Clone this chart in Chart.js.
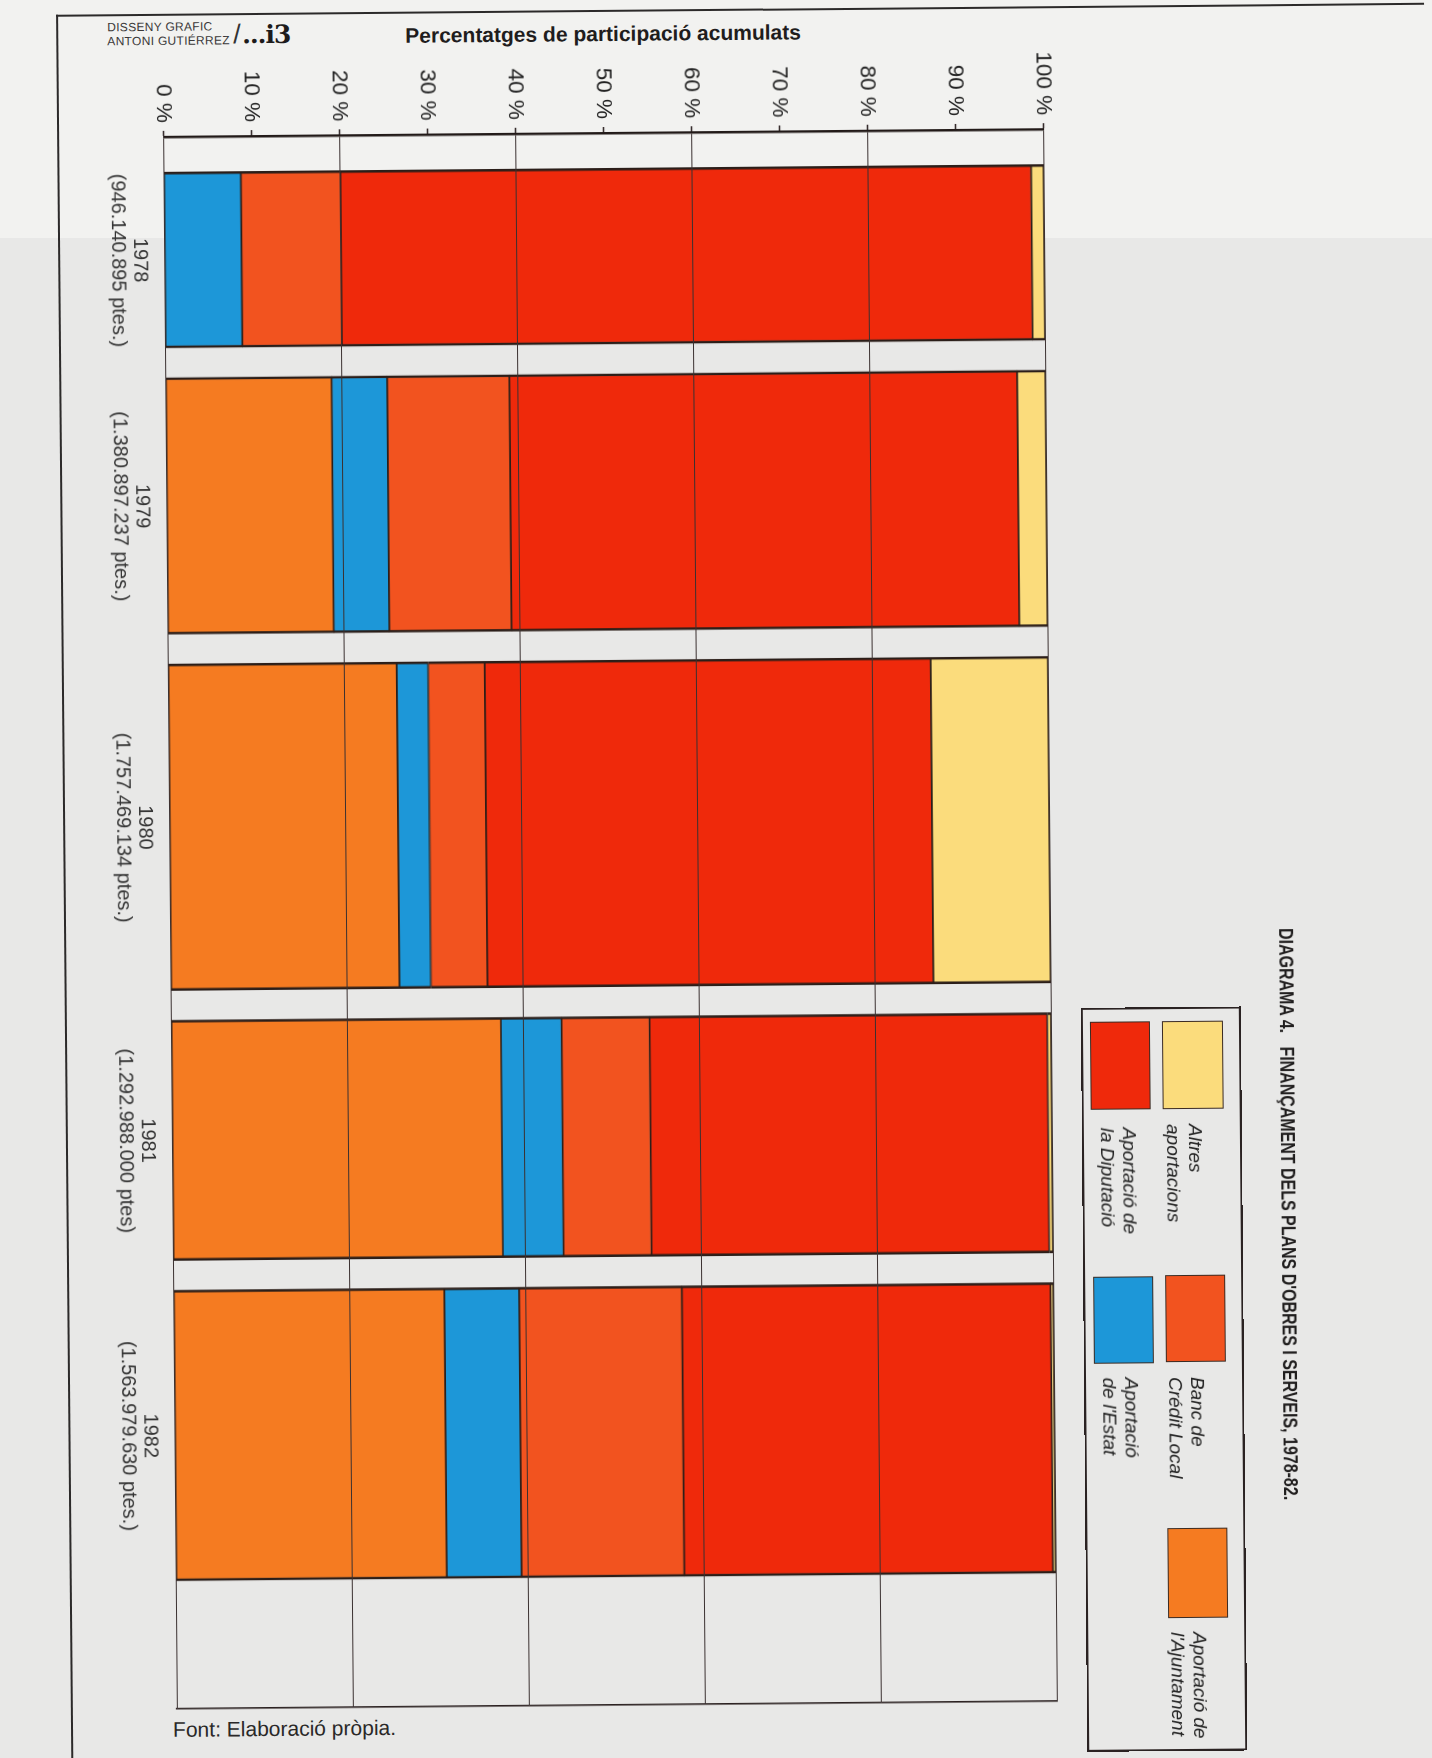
<!DOCTYPE html>
<html lang="ca">
<head>
<meta charset="utf-8">
<title>Finançament dels plans d'obres i serveis, 1978-82</title>
<script src="https://cdn.jsdelivr.net/npm/chart.js@4.4.1/dist/chart.umd.min.js"></script>
<style>
  html, body { margin: 0; padding: 0; }
  body {
    width: 1432px; height: 1758px; overflow: hidden; position: relative;
    background: #e8e8e7;
    font-family: 'Liberation Sans', Arial, Helvetica, sans-serif;
    color: #222;
  }
  #band-top { position: absolute; left: 0; top: 0; width: 1432px; height: 238px; background: #f2f2f0; }
  #page {
    position: absolute; left: 0; top: 0; width: 1432px; height: 1758px;
    transform-origin: 610px 920px; transform: rotate(-0.5deg);
  }
  .rule { position: absolute; background: #2c2a2a; }
  #credit { position: absolute; left: 115px; top: 16px; font-size: 12px; line-height: 14px; letter-spacing: 0.3px; color: #3a3838; }
  #credit .slash { position: absolute; left: 126px; top: 2px; font-size: 27px; line-height: 27px; font-weight: 300; color: #333; }
  #credit .mark { position: absolute; left: 135px; top: 2px; font-family: 'DejaVu Serif', serif; font-weight: bold; font-size: 25px; line-height: 28px; color: #1d1b1b; white-space: pre; letter-spacing: -1px; }
  #axis-title { position: absolute; left: 413px; top: 21px; font-weight: bold; font-size: 21px; line-height: 26px; color: #1f1d1d; white-space: pre; }
  #source { position: absolute; left: 166px; top: 1713px; font-size: 21px; line-height: 26px; color: #2a2828; white-space: pre; }

  #turned {
    position: absolute; left: 0; top: 0; width: 1758px; height: 1432px;
    transform-origin: 0 0; transform: translate(1432px, 0) rotate(90deg);
  }
  #chart { position: absolute; left: 0; top: 0; width: 1758px; height: 1432px; display: block; }
  #title {
    position: absolute; left: 934px; top: 134px; font-weight: bold; font-size: 20px; line-height: 24px;
    white-space: pre; color: #1f1d1d; transform-origin: 0 50%;
  }
  #legend { position: absolute; left: 1012px; top: 192px; width: 744px; height: 160px; border: 2px solid #2a2222; box-sizing: border-box; }
  .sw { position: absolute; border: 1.5px solid #3a2a22; box-sizing: border-box; }
  .lab { position: absolute; font-style: italic; font-size: 19px; line-height: 22px; color: #222; white-space: pre; }
</style>
</head>
<body>
<div id="band-top"></div>
<div id="page">
  <div class="rule" style="left:64px; top:10px; width:1368px; height:2px;"></div>
  <div class="rule" style="left:64px; top:10px; width:2px; height:1748px;"></div>
  <div id="credit">DISSENY GRAFIC<br>ANTONI GUTIÉRREZ<span class="slash">/</span><span class="mark">...i3</span></div>
  <div id="axis-title">Percentatges de participació acumulats</div>
  <div id="source">Font: Elaboració pròpia.</div>

  <div id="turned">
    <canvas id="chart" width="1758" height="1432"></canvas>
    <div id="title">DIAGRAMA 4.   FINANÇAMENT DELS PLANS D'OBRES I SERVEIS, 1978-82.</div>
    <div id="legend"></div>
  </div>
</div>

<script>
// Years, totals and each source's share (%) of the yearly financing
const YEARS = ['1978', '1979', '1980', '1981', '1982'];
const YEAR_TOTALS_PTES = [946140895, 1380897237, 1757469134, 1292988000, 1563979630];
const YEAR_TOTAL_TEXT = ['(946.140.895 ptes.)', '(1.380.897.237 ptes.)', '(1.757.469.134 ptes.)', '(1.292.988.000 ptes)', '(1.563.979.630 ptes.)'];

const AJUNTAMENT = [0, 18.9, 26.0, 37.5, 30.8];
const ESTAT      = [8.8, 6.3, 3.6, 6.9, 8.5];
const BANC       = [11.3, 13.9, 6.4, 10.0, 18.5];
const DIPUTACIO  = [78.5, 57.7, 50.7, 45.2, 41.9];
const ALTRES     = [1.4, 3.2, 13.3, 0.4, 0.3];

const PERCENT_TICKS = [0, 10, 20, 30, 40, 50, 60, 70, 80, 90, 100];

// Stacking order from 0 % upwards
const SERIES = [
  { name: "Aportació de l'Ajuntament", values: AJUNTAMENT, color: '#f57b21' },
  { name: "Aportació de l'Estat",      values: ESTAT,      color: '#1d97d8' },
  { name: 'Banc de Crédit Local',      values: BANC,       color: '#f2531f' },
  { name: 'Aportació de la Diputació', values: DIPUTACIO,  color: '#ef290b' },
  { name: 'Altres aportacions',        values: ALTRES,     color: '#fbdc7c' }
];

// Column widths are proportional to the year's total (millions of pesetas);
// spacing along the year axis is expressed in the same unit.
const LEAD_M = 190, GAP_M = 160, AXIS_M = 8460;
const totalsM = YEAR_TOTALS_PTES.map(t => t / 1e6);
const centers = [];
let cursor = LEAD_M;
totalsM.forEach(t => { centers.push(cursor + t / 2); cursor += t + GAP_M; });

const datasets = [];
YEARS.forEach((yr, i) => {
  SERIES.forEach(s => {
    if (!s.values[i]) return;
    datasets.push({
      label: s.name,
      data: [{ x: centers[i], y: s.values[i] }],
      backgroundColor: s.color,
      yearTotalM: totalsM[i]
    });
  });
});

Chart.defaults.font.family = "'Liberation Sans', Arial, Helvetica, sans-serif";
const INK = '#2a2020';

const chart = new Chart(document.getElementById('chart'), {
  type: 'bar',
  data: { datasets },
  options: {
    responsive: false,
    animation: false,
    events: [],
    layout: { padding: { top: 382, right: 53, left: 0, bottom: 0 } },
    plugins: { legend: { display: false }, tooltip: { enabled: false }, title: { display: false } },
    datasets: {
      bar: {
        borderColor: '#2b1e19',
        borderWidth: { top: 1.2, bottom: 1.2, left: 2.6, right: 2.6 },
        borderSkipped: false,
        stack: 'financament'
      }
    },
    scales: {
      x: {
        type: 'linear', min: 0, max: AXIS_M, offset: false, stacked: true,
        grid: { display: false }, border: { display: false },
        afterBuildTicks: s => { s.ticks = centers.map(v => ({ value: v })); },
        afterFit: s => { s.height = 170; },
        ticks: {
          autoSkip: false, maxRotation: 0, minRotation: 0, padding: 5, color: '#333',
          font: { size: 20, lineHeight: 1.1 },
          callback: (v, i) => [YEARS[i], YEAR_TOTAL_TEXT[i]]
        }
      },
      y: {
        min: 0, max: 100, stacked: true,
        afterBuildTicks: s => { s.ticks = PERCENT_TICKS.map(v => ({ value: v })); },
        afterFit: s => { s.width = 133; },
        ticks: { z: 1, padding: 8, color: '#222', font: { size: 22.5 }, callback: v => v + ' %' },
        grid: {
          z: 1,
          color: c => (c.tick && c.tick.value % 20 === 0) ? '#3a3030' : 'rgba(0,0,0,0)',
          lineWidth: 1.1, drawTicks: true, tickLength: 6, tickColor: INK, tickWidth: 1.5
        },
        border: { z: 2, display: true, color: '#221a18', width: 2.5 }
      },
      y2: {
        position: 'right', min: 0, max: 100,
        afterFit: s => { s.width = 0; },
        ticks: { display: false },
        grid: { display: false, drawTicks: false },
        border: { display: true, color: INK, width: 1.6 }
      }
    }
  }
});

// Turn each year's total into a column thickness through the year scale
const xs = chart.scales.x;
const pxPerM = (xs.getPixelForValue(1000) - xs.getPixelForValue(0)) / 1000;
chart.data.datasets.forEach(ds => { ds.barThickness = ds.yearTotalM * pxPerM; });
chart.update();

// Legend (two rows, as printed)
const LEGEND_LAYOUT = [
  { s: 4, sw: [12, 16, 88, 61], lab: [115, 34], text: 'Altres\naportacions' },
  { s: 2, sw: [266, 16, 87, 60], lab: [368, 34], text: 'Banc de\nCrédit Local' },
  { s: 0, sw: [519, 16, 90, 60], lab: [623, 34], text: "Aportació de\nl'Ajuntament" },
  { s: 3, sw: [12, 89, 88, 60], lab: [118, 100], text: 'Aportació de\nla Diputació' },
  { s: 1, sw: [267, 88, 87, 60], lab: [368, 100], text: "Aportació\nde l'Estat" }
];
const legend = document.getElementById('legend');
LEGEND_LAYOUT.forEach(item => {
  const sw = document.createElement('div');
  sw.className = 'sw';
  sw.style.cssText = `left:${item.sw[0]}px;top:${item.sw[1]}px;width:${item.sw[2]}px;height:${item.sw[3]}px;background:${SERIES[item.s].color}`;
  legend.appendChild(sw);
  const lab = document.createElement('div');
  lab.className = 'lab';
  lab.style.left = item.lab[0] + 'px';
  lab.style.top = item.lab[1] + 'px';
  lab.textContent = item.text;
  legend.appendChild(lab);
});

// Condensed heading
const title = document.getElementById('title');
title.style.transform = `scaleX(${(572 / title.scrollWidth).toFixed(3)})`;
</script>
</body>
</html>
